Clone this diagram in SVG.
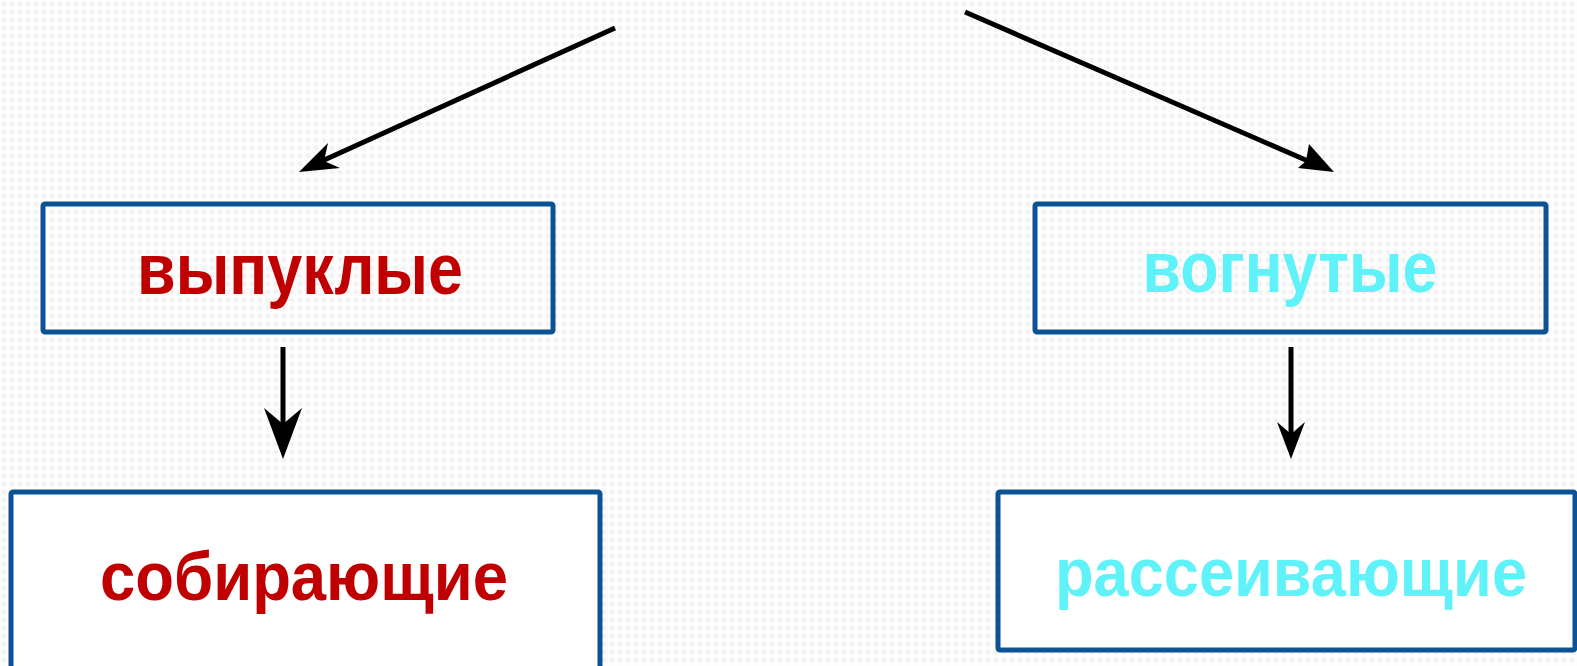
<svg xmlns="http://www.w3.org/2000/svg" width="1577" height="666" viewBox="0 0 1577 666">
  <defs>
    <pattern id="bg" width="8" height="8" patternUnits="userSpaceOnUse">
      <rect width="8" height="8" fill="#fdfdfd"/>
      <circle cx="4" cy="4" r="2.2" fill="#f1f1f1"/>
    </pattern>
    <style>
      .box { stroke: #0b5394; stroke-width: 5; }
      .lbl { font-family: "Liberation Sans", Arial, sans-serif; font-weight: bold; text-anchor: middle; font-size: 69px; }
      .top { font-size: 73px; }
      .red { fill: #c00000; }
      .cyan { fill: #5ff2f9; }
      .ln { stroke: #000; stroke-width: 5; fill: none; }
      .hd { fill: #000; stroke: none; }
    </style>
  </defs>
  <rect width="1577" height="666" fill="url(#bg)"/>

  <g id="connectors">
    <line class="ln" x1="615" y1="28" x2="322" y2="161"/>
    <polygon class="hd" points="299,172 328,143 324,161 340,168"/>
    <line class="ln" x1="965" y1="12" x2="1308" y2="161"/>
    <polygon class="hd" points="1334,172 1309,144 1306,161 1298,168"/>
    <line class="ln" x1="283" y1="347" x2="283" y2="425"/>
    <polygon class="hd" points="283,459 264,408 283,424 302,408"/>
    <line class="ln" x1="1291" y1="347" x2="1291" y2="435"/>
    <polygon class="hd" points="1291,459 1277,422 1291,434 1305,422"/>
  </g>

  <g id="node-convex">
    <rect class="box" x="43" y="204" width="510" height="128" rx="2" fill="none"/>
    <text class="lbl top red" x="300" y="294" textLength="326" lengthAdjust="spacingAndGlyphs">выпуклые</text>
  </g>
  <g id="node-concave">
    <rect class="box" x="1035" y="204" width="511" height="128" rx="2" fill="none"/>
    <text class="lbl top cyan" x="1290" y="292" textLength="295" lengthAdjust="spacingAndGlyphs">вогнутые</text>
  </g>
  <g id="node-converging">
    <rect class="box" x="11" y="492" width="589" height="190" rx="2" fill="#ffffff"/>
    <text class="lbl red" x="304" y="600" textLength="408" lengthAdjust="spacingAndGlyphs">собирающие</text>
  </g>
  <g id="node-diverging">
    <rect class="box" x="998" y="492" width="577" height="158" rx="2" fill="#ffffff"/>
    <text class="lbl cyan" x="1291" y="596" textLength="472" lengthAdjust="spacingAndGlyphs">рассеивающие</text>
  </g>
</svg>
